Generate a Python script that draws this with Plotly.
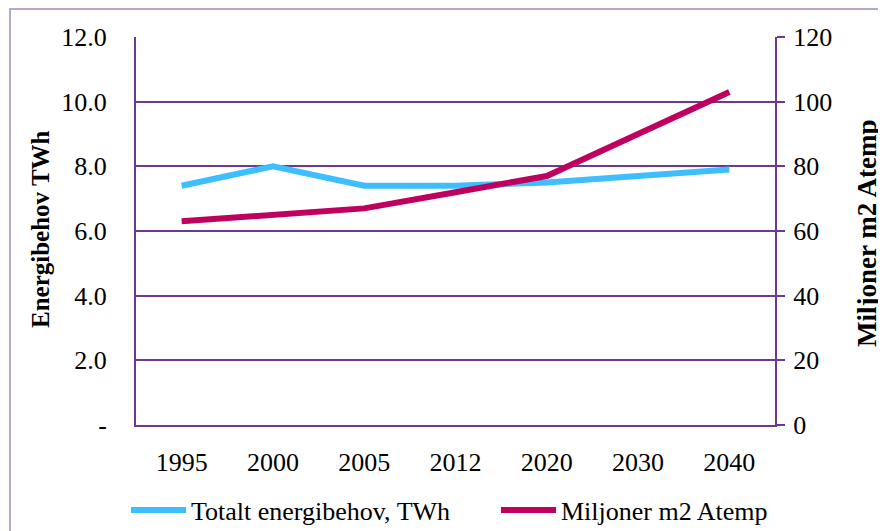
import plotly.graph_objects as go

years = ["1995", "2000", "2005", "2012", "2020", "2030", "2040"]
energy_twh = [7.4, 8.0, 7.4, 7.4, 7.5, 7.7, 7.9]
area_mm2 = [63, 65, 67, 72, 77, 90, 103]
left_ticks = [0, 2, 4, 6, 8, 10, 12]
left_labels = ["-", "2.0", "4.0", "6.0", "8.0", "10.0", "12.0"]
right_ticks = [0, 20, 40, 60, 80, 100, 120]

GRID = "#6B3A8E"
FONT = "Liberation Serif"
FS = 26

# page is rendered with an 8px body margin; figure coords = page coords - 8
W, H = 878, 523
L, R, T, B = 128, 111, 29, 106
PW, PH = W - L - R, H - T - B


def px(xf):
    return (xf - L) / PW


def py(yf):
    return (T + PH - yf) / PH


fig = go.Figure()
fig.add_trace(go.Scatter(x=years, y=energy_twh, mode="lines", name="Totalt energibehov, TWh",
                         line=dict(color="#3FBEFF", width=6)))
fig.add_trace(go.Scatter(x=years, y=area_mm2, mode="lines", name="Miljoner m2 Atemp",
                         line=dict(color="#C0005F", width=6), yaxis="y2"))

fig.update_layout(
    width=W, height=H,
    margin=dict(l=L, r=R, t=T, b=B, autoexpand=False),
    paper_bgcolor="white", plot_bgcolor="white",
    font=dict(family=FONT, size=FS, color="black"),
    showlegend=True,
    legend=dict(orientation="h", x=px(118), xanchor="left", y=py(502), yanchor="middle",
                font=dict(family=FONT, size=FS), itemwidth=55, tracegroupgap=0,
                entrywidth=300, entrywidthmode="pixels"),
    xaxis=dict(type="category", range=[-0.5, 6.5], showgrid=False, showline=True,
               linecolor=GRID, linewidth=2, ticks="", ticklabelstandoff=13,
               automargin=False, tickfont=dict(family=FONT, size=FS)),
    yaxis=dict(range=[0, 12], tickvals=left_ticks, ticktext=left_labels,
               showgrid=True, gridcolor=GRID, gridwidth=2, zeroline=False,
               showline=True, linecolor=GRID, linewidth=2, ticks="",
               ticklabelstandoff=22, automargin=False),
    yaxis2=dict(range=[0, 120], tickvals=right_ticks, overlaying="y", side="right",
                showgrid=False, zeroline=False, showline=True, linecolor=GRID, linewidth=2,
                ticks="outside", ticklen=8, tickwidth=2, tickcolor=GRID, ticklabelstandoff=3,
                automargin=False),
    annotations=[
        dict(text="<b>Energibehov TWh</b>", xref="paper", yref="paper",
             x=px(32), y=py(221), textangle=-90, showarrow=False,
             xanchor="center", yanchor="middle", font=dict(family=FONT, size=25)),
        dict(text="<b>Miljoner m2 Atemp</b>", xref="paper", yref="paper",
             x=px(859), y=py(226), textangle=-90, showarrow=False,
             xanchor="center", yanchor="middle", font=dict(family=FONT, size=27)),
    ],
)

fig.add_shape(type="rect", xref="paper", yref="paper",
              x0=px(2), x1=px(W + 20), y0=py(H + 20), y1=py(1),
              line=dict(color="#B7A6CE", width=2), fillcolor="rgba(0,0,0,0)", layer="below")

fig.write_html("out.html")
